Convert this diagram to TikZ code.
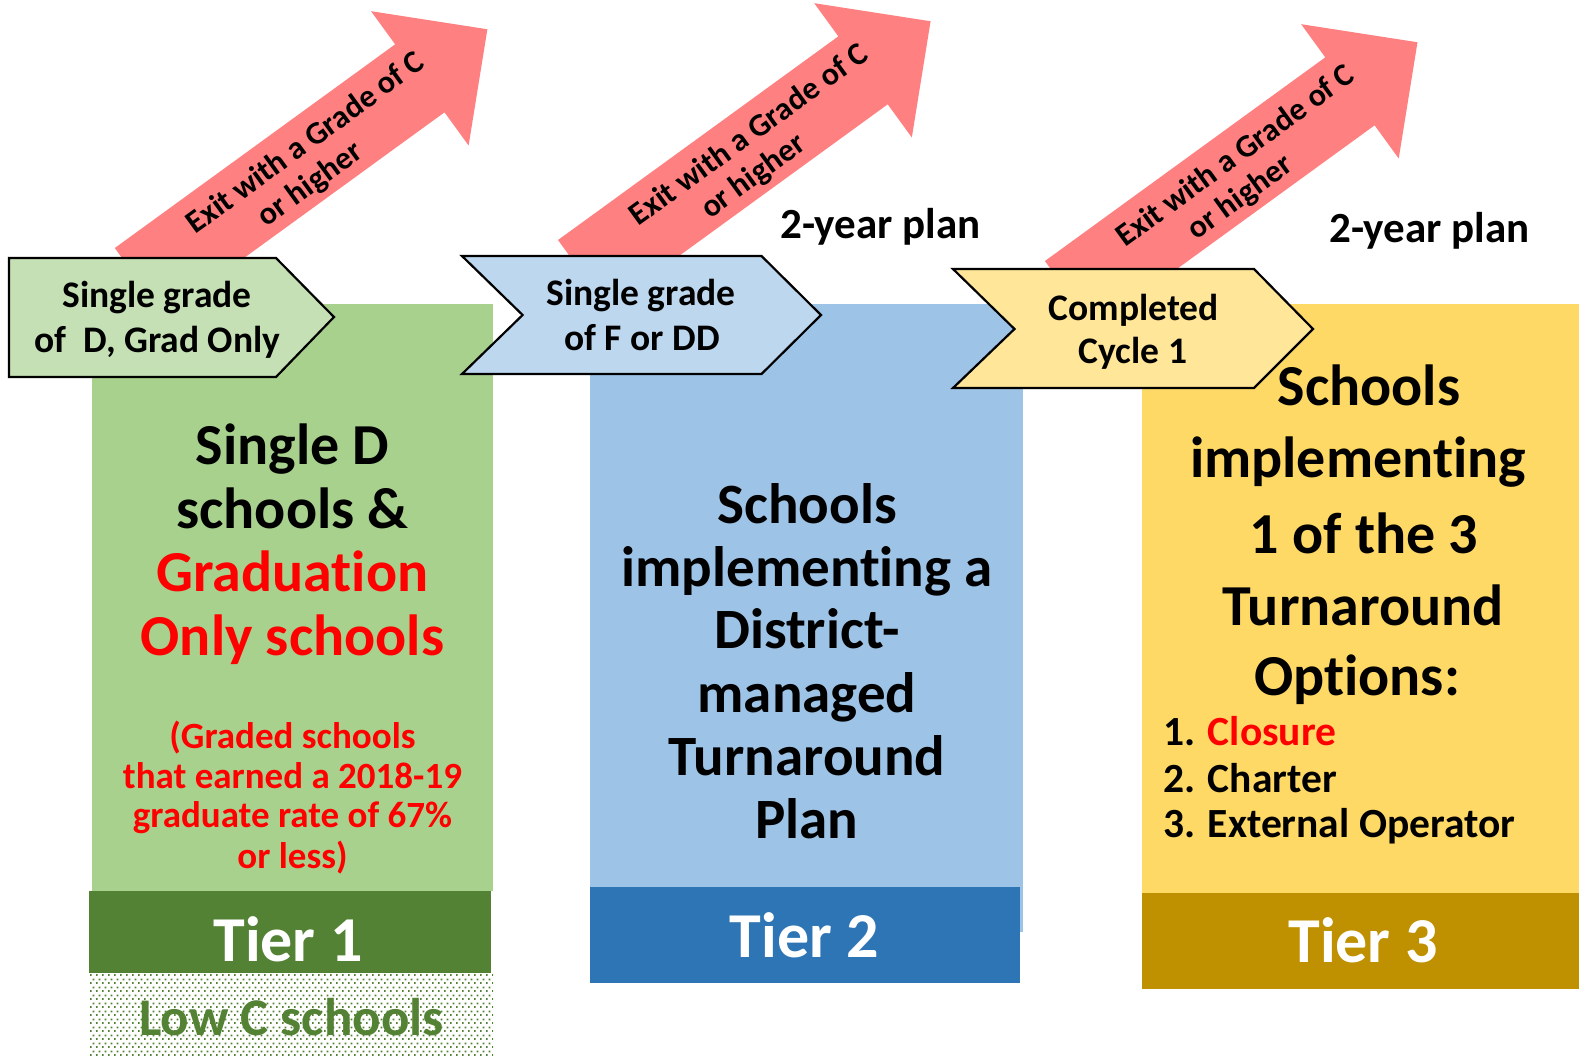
\documentclass[tikz,border=0pt]{standalone}
\usepackage{fontspec}
\setmainfont{Carlito}[Ligatures=NoCommon]
\usetikzlibrary{patterns}
\definecolor{arrowpink}{HTML}{FF8080}
\definecolor{gbox}{HTML}{A9D18E}
\definecolor{gchev}{HTML}{C5E0B4}
\definecolor{gtier}{HTML}{548235}
\definecolor{bbox}{HTML}{9DC3E6}
\definecolor{bchev}{HTML}{BDD7EE}
\definecolor{btier}{HTML}{2E75B6}
\definecolor{ybox}{HTML}{FFD966}
\definecolor{ychev}{HTML}{FFE699}
\definecolor{ytier}{HTML}{BF9000}
\definecolor{redtxt}{HTML}{FF0000}
\pgfdeclarepatternformonly{stagdots}{\pgfqpoint{0pt}{0pt}}{\pgfqpoint{6pt}{8pt}}{\pgfqpoint{6pt}{8pt}}{%
  \pgfpathrectangle{\pgfqpoint{0pt}{0pt}}{\pgfqpoint{2pt}{2pt}}%
  \pgfpathrectangle{\pgfqpoint{3pt}{4pt}}{\pgfqpoint{2pt}{2pt}}%
  \pgfusepath{fill}}
\newcommand\exitarrow[3]{%
  \begin{scope}[shift={#1}, rotate=#2]
    \fill[arrowpink] (0,-42) -- (346.5,-42) -- (346.5,-83) -- (430,0) -- (346.5,83) -- (346.5,42) -- (0,42) -- cycle;
    \node[arrtxt, rotate=#2] (#3) at (216,4) {Exit with a Grade of C\\\hspace*{62pt}or higher};
  \end{scope}}
\begin{document}
\begin{tikzpicture}[x=1pt,y=-1pt,
  every node/.style={inner sep=0pt},
  chevline/.style={draw=black, line width=2.2pt, line join=miter},
  arrtxt/.style={anchor=center, align=left, font=\fontsize{32}{36}\selectfont\bfseries},
  chevtxt/.style={anchor=base, font=\fontsize{37.5}{44}\selectfont\bfseries},
  bigg/.style={anchor=base, font=\fontsize{58}{64}\selectfont\bfseries},
  bigb/.style={anchor=base, font=\fontsize{57}{63}\selectfont\bfseries},
  bigy/.style={anchor=base, font=\fontsize{58}{72}\selectfont\bfseries},
  smallred/.style={anchor=base, text=redtxt, font=\fontsize{37}{40}\selectfont\bfseries},
  listtxt/.style={anchor=base west, font=\fontsize{41.5}{46}\selectfont\bfseries},
  plantxt/.style={anchor=base west, font=\fontsize{43}{46}\selectfont\bfseries},
  tiertxt/.style={anchor=base, text=white, font=\fontsize{64}{70}\selectfont\bfseries},
]
\useasboundingbox (0,0) rectangle (1579,1055);
\fill[white] (0,0) rectangle (1579,1055);
% boxes
\fill[gbox] (92,304) rectangle (493,891);
\fill[bbox] (590,304) rectangle (1023,932);
\fill[ybox] (1142,304) rectangle (1579,893);
% tier bands
\fill[gtier] (89,891) rectangle (491,973);
\fill[btier] (590,887) rectangle (1020,983);
\fill[ytier] (1142,893) rectangle (1579,989);
\fill[pattern=stagdots, pattern color=gtier] (90,973) rectangle (493,1055);
% arrows
\exitarrow{(139.5,282)}{36}{ar1}
\exitarrow{(582.7,274)}{36}{ar2}
\exitarrow{(1069.6,295)}{36}{ar3}
% chevrons
\filldraw[chevline, fill=gchev] (9,258) -- (276,258) -- (334,317) -- (276,377) -- (9,377) -- cycle;
\filldraw[chevline, fill=bchev] (462,256) -- (761.5,256) -- (821,315) -- (761.5,374) -- (462,374) -- (522.6,315) -- cycle;
\filldraw[chevline, fill=ychev] (953,269) -- (1254,269) -- (1313,329) -- (1254,388) -- (953,388) -- (1014.5,329) -- cycle;
% chevron texts
\node[chevtxt] (c1a) at (157,307) {Single grade};
\node[chevtxt] (c1b) at (157.5,352) {of\ \ D, Grad Only};
\node[chevtxt] (c2a) at (641,305) {Single grade};
\node[chevtxt] (c2b) at (642,350) {of F or DD};
\node[chevtxt] (c3a) at (1133.5,320) {Completed};
\node[chevtxt] (c3b) at (1133,363) {Cycle 1};
% 2-year plan
\node[plantxt] (p1) at (780,238) {2-year plan};
\node[plantxt] (p2) at (1329,242) {2-year plan};
% green texts
\node[bigg] (g1) at (292.5,464) {Single D};
\node[bigg] (g2) at (292.5,528) {schools \&};
\node[bigg, text=redtxt] (g3) at (292.5,591) {Graduation};
\node[bigg, text=redtxt] (g4) at (292.5,655) {Only schools};
\node[smallred] (r1) at (292.5,748) {(Graded schools};
\node[smallred] (r2) at (292.5,788) {that earned a 2018-19};
\node[smallred] (r3) at (292.5,827) {graduate rate of 67\%};
\node[smallred] (r4) at (292.5,868) {or less)};
% blue texts
\node[bigb] (b1) at (807,523) {Schools};
\node[bigb] (b2) at (807,586) {implementing a};
\node[bigb] (b3) at (807,648) {District-};
\node[bigb] (b4) at (807,712) {managed};
\node[bigb] (b5) at (807,775) {Turnaround};
\node[bigb] (b6) at (807,838) {Plan};
% yellow texts
\node[bigy] (y1) at (1369,405) {Schools};
\node[bigy] (y2) at (1358,477) {implementing};
\node[bigy] (y3) at (1364,553) {1 of the 3};
\node[bigy] (y4) at (1363,625) {Turnaround};
\node[bigy] (y5) at (1357,695) {Options:};
\node[listtxt] (l1) at (1163,745) {1. \textcolor{redtxt}{Closure}};
\node[listtxt] (l2) at (1163,792) {2. Charter};
\node[listtxt] (l3) at (1163,837) {3. External Operator};
% tiers
\node[tiertxt] (t1) at (288,961) {Tier 1};
\node[tiertxt] (t2) at (804.5,957) {Tier 2};
\node[tiertxt] (t3) at (1363,962) {Tier 3};
\node[anchor=base, text=gtier, font=\fontsize{53}{60}\selectfont\bfseries] (lowc) at (291.5,1035) {Low C schools};
\end{tikzpicture}
\end{document}
